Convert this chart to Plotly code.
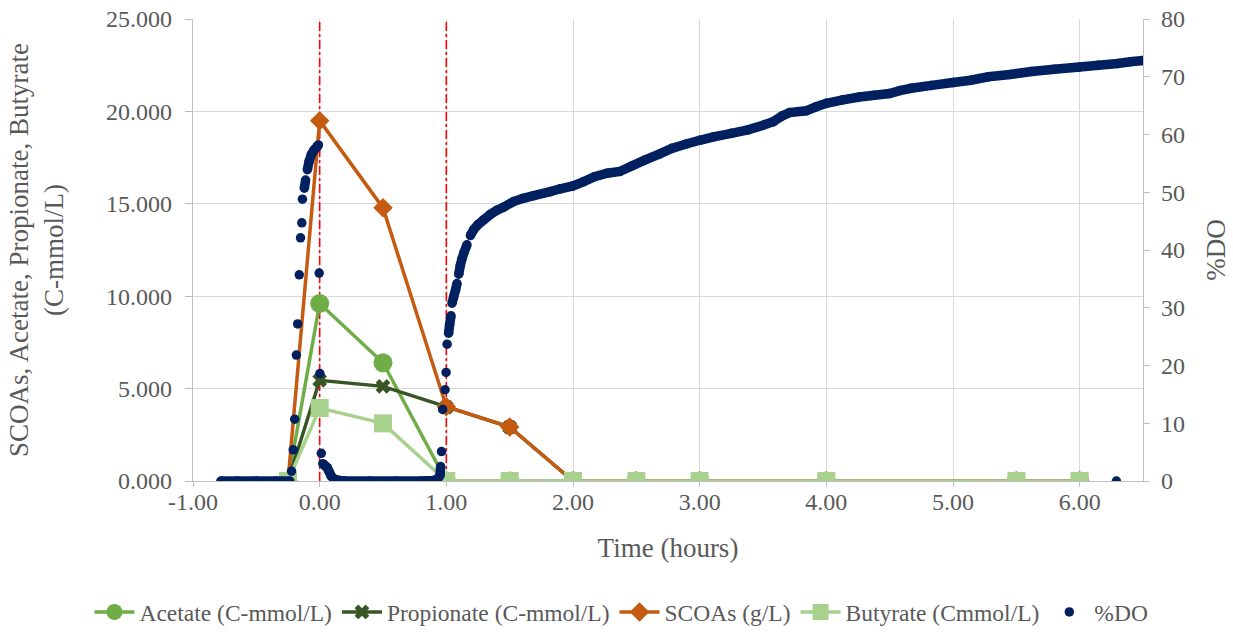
import plotly.graph_objects as go

# Sampling times (hours) for the volatile fatty acid measurements
TIME_H = [-0.25, 0.0, 0.5, 1.0, 1.5, 2.0, 2.5, 3.0, 4.0, 5.5, 6.0]
ACETATE = [0.0, 9.6, 6.4, 0.0, 0.0, 0.0, 0.0, 0.0, 0.0, 0.0, 0.0]
PROPIONATE = [0.0, 5.45, 5.12, 4.0, 2.92, 0.0, 0.0, 0.0, 0.0, 0.0, 0.0]
SCOAS = [0.0, 19.5, 14.78, 4.02, 2.92, 0.0, 0.0, 0.0, 0.0, 0.0, 0.0]
BUTYRATE = [0.0, 3.95, 3.12, 0.0, 0.0, 0.0, 0.0, 0.0, 0.0, 0.0, 0.0]

# Phase boundaries (hours)
PHASE_BOUNDARIES = [0.0, 1.0]

# Dissolved oxygen log (hours, % saturation)
DO_TIME = [
    -0.78, -0.65, -0.50, -0.35, -0.235, -0.222, -0.209, -0.197, -0.184, -0.174,
    -0.161, -0.151, -0.141, -0.136, -0.121, -0.111, -0.097, -0.084, -0.066, -0.045,
    -0.020, -0.010, -0.004, 0.002, 0.013, 0.025, 0.040, 0.060, 0.075, 0.090,
    0.110, 0.130, 0.160, 0.200, 0.400, 0.600, 0.800, 0.900, 0.930, 0.950,
    0.955, 0.962, 0.971, 0.990, 0.998, 1.006, 1.018, 1.026, 1.037, 1.045,
    1.058, 1.073, 1.084, 1.098, 1.110, 1.124, 1.140, 1.163, 1.190, 1.215,
    1.250, 1.294, 1.350, 1.400, 1.450, 1.531, 1.600, 1.690, 1.820, 1.900,
    2.000, 2.080, 2.170, 2.270, 2.370, 2.470, 2.570, 2.680, 2.780, 2.900,
    3.000, 3.110, 3.250, 3.380, 3.500, 3.580, 3.650, 3.710, 3.840, 3.920,
    4.000, 4.130, 4.260, 4.380, 4.500, 4.580, 4.670, 4.830, 5.000, 5.140,
    5.280, 5.450, 5.620, 5.800, 6.000, 6.150, 6.300, 6.400, 6.500, 6.290,
]
DO_PCT = [
    0.0, 0.0, 0.0, 0.0, 0.0, 1.7, 5.4, 10.7, 21.8, 27.2,
    35.7, 42.1, 44.7, 48.8, 50.7, 52.1, 53.9, 55.3, 56.5, 57.3,
    57.9, 58.2, 36.0, 18.6, 4.8, 3.0, 2.7, 2.3, 1.6, 0.9,
    0.4, 0.2, 0.1, 0.0, 0.0, 0.0, 0.0, 0.1, 0.3, 1.0,
    2.5, 5.1, 12.4, 15.8, 18.8, 23.7, 25.6, 27.1, 28.6, 30.8,
    31.9, 33.1, 34.2, 35.8, 37.3, 38.5, 39.6, 40.9, 42.5, 43.5,
    44.4, 45.2, 46.2, 46.9, 47.4, 48.4, 48.9, 49.4, 50.1, 50.6,
    51.1, 51.8, 52.7, 53.3, 53.6, 54.6, 55.6, 56.6, 57.6, 58.4,
    59.0, 59.6, 60.2, 60.8, 61.6, 62.2, 63.2, 63.8, 64.1, 64.8,
    65.4, 66.0, 66.5, 66.8, 67.1, 67.6, 68.0, 68.5, 69.0, 69.4,
    70.0, 70.4, 70.9, 71.3, 71.7, 72.0, 72.3, 72.6, 72.8, 0.0,
]

X_TICKS = [-1, 0, 1, 2, 3, 4, 5, 6]
X_TICK_TEXT = ["-1.00", "0.00", "1.00", "2.00", "3.00", "4.00", "5.00", "6.00"]
Y_RANGE = [0, 25]
Y2_RANGE = [0, 80]

FONT = "Liberation Serif, Times New Roman, serif"
GREY = "#595959"
NAVY = "#002060"

fig = go.Figure()

# Red dash-dot phase markers, drawn first so every series sits above them
for xv in PHASE_BOUNDARIES:
    fig.add_trace(go.Scatter(
        x=[xv, xv], y=Y_RANGE, mode="lines", showlegend=False, hoverinfo="skip",
        line=dict(color="#FF0000", width=1.6, dash="dashdot"),
    ))

fig.add_trace(go.Scatter(
    x=TIME_H, y=ACETATE, name="Acetate (C-mmol/L)", mode="lines+markers",
    line=dict(color="#70AD47", width=3.5),
    marker=dict(symbol="circle", size=19, color="#70AD47"),
))
fig.add_trace(go.Scatter(
    x=TIME_H, y=PROPIONATE, name="Propionate (C-mmol/L)", mode="lines+markers",
    line=dict(color="#375623", width=3.5),
    marker=dict(symbol="x", size=13, color="#375623"),
))
fig.add_trace(go.Scatter(
    x=TIME_H, y=SCOAS, name="SCOAs (g/L)", mode="lines+markers",
    line=dict(color="#C55A11", width=3.5),
    marker=dict(symbol="diamond", size=15, color="#C55A11"),
))
fig.add_trace(go.Scatter(
    x=TIME_H, y=BUTYRATE, name="Butyrate (Cmmol/L)", mode="lines+markers",
    line=dict(color="#A9D18E", width=3.5),
    marker=dict(symbol="square", size=18, color="#A9D18E"),
))

# Closely spaced DO readings merge into a continuous band; large jumps stay as separate dots
band_x, band_y = [], []
for i, (t, v) in enumerate(zip(DO_TIME, DO_PCT)):
    if i and abs(v - DO_PCT[i - 1]) > 1.5:
        band_x.append(None)
        band_y.append(None)
    band_x.append(t)
    band_y.append(v)

fig.add_trace(go.Scatter(
    x=band_x, y=band_y, mode="lines", yaxis="y2", showlegend=False,
    hoverinfo="skip", connectgaps=False,
    line=dict(color=NAVY, width=9.5, simplify=False),
))
fig.add_trace(go.Scatter(
    x=DO_TIME, y=DO_PCT, name="%DO", mode="markers", yaxis="y2",
    marker=dict(symbol="circle", size=9.5, color=NAVY),
))

axis_common = dict(
    showline=True, linecolor="#BFBFBF", linewidth=1.3,
    ticks="outside", tickcolor="#BFBFBF", tickwidth=1.3,
    zeroline=False,
    tickfont=dict(family=FONT, size=24, color=GREY),
)

fig.update_layout(
    width=1233, height=634,
    margin=dict(l=193, r=90, t=19, b=153, autoexpand=False),
    paper_bgcolor="white", plot_bgcolor="white",
    font=dict(family=FONT, color=GREY),
    xaxis=dict(
        range=[-1, 6.5], tickvals=X_TICKS, ticktext=X_TICK_TEXT, tickangle=0,
        ticklen=5, ticklabelstandoff=-6,
        showgrid=True, gridcolor="#D9D9D9", gridwidth=1.3,
        title=dict(text="Time (hours)", font=dict(family=FONT, size=27, color=GREY), standoff=24),
        **axis_common,
    ),
    yaxis=dict(
        range=Y_RANGE, dtick=5, tickformat=".3f", ticklen=7, ticklabelstandoff=8,
        showgrid=True, gridcolor="#D9D9D9", gridwidth=1.3,
        title=dict(text="SCOAs, Acetate, Propionate, Butyrate<br>(C-mmol/L)",
                   font=dict(family=FONT, size=27, color=GREY), standoff=34),
        **axis_common,
    ),
    yaxis2=dict(
        range=Y2_RANGE, dtick=10, overlaying="y", side="right",
        ticklen=6, ticklabelstandoff=6,
        showgrid=False,
        title=dict(text="%DO", font=dict(family=FONT, size=27, color=GREY), standoff=22),
        **axis_common,
    ),
    legend=dict(
        orientation="h", x=-0.109, xanchor="left",
        y=-0.284, yanchor="middle",
        font=dict(family=FONT, size=23.5, color=GREY),
        itemwidth=40, tracegroupgap=0,
    ),
    showlegend=True,
)

fig.write_html("out.html")
